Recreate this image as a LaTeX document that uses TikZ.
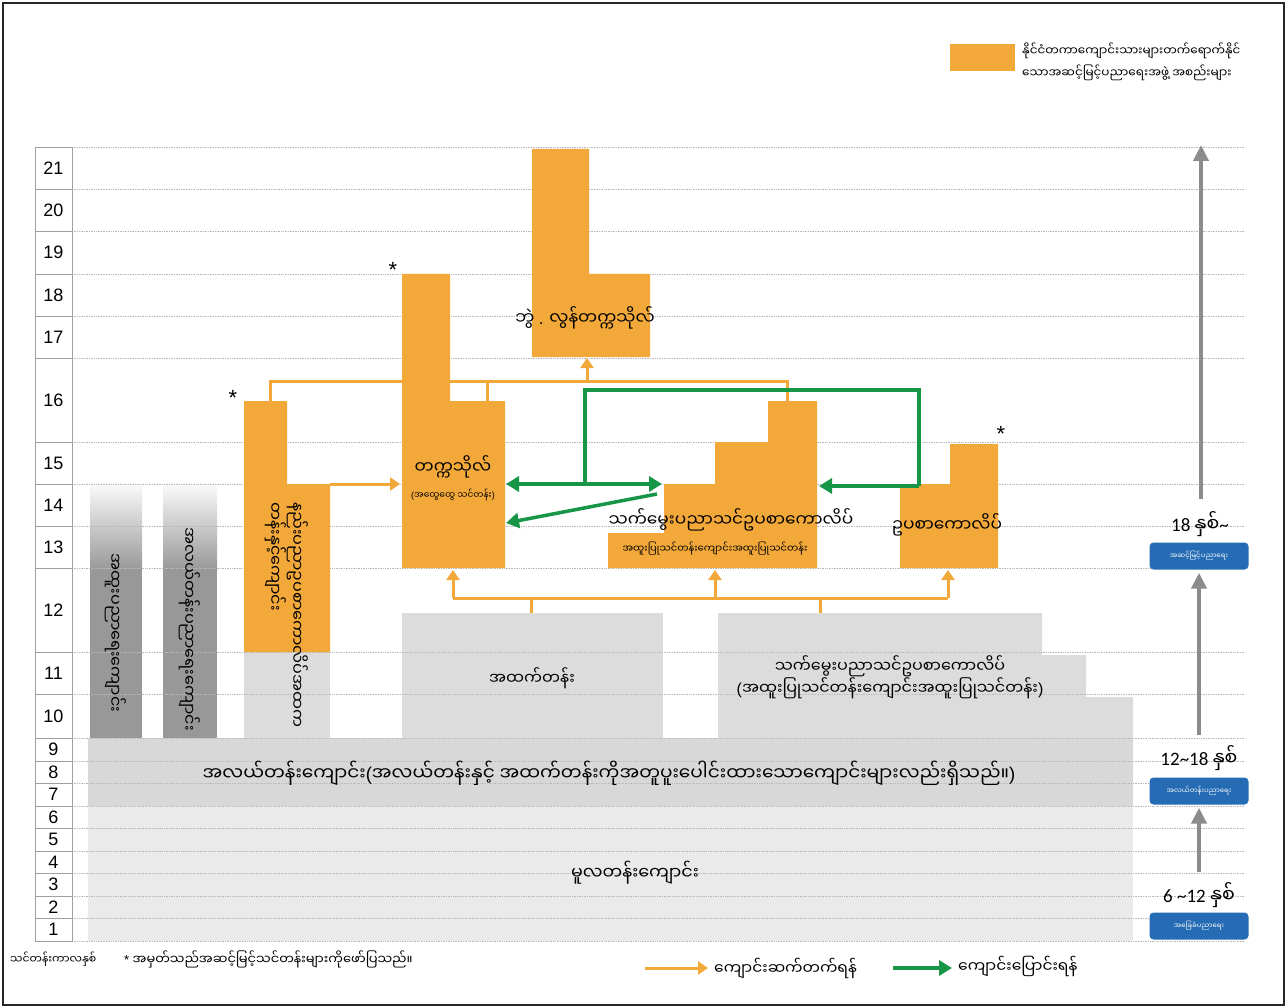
\documentclass[tikz,border=0pt]{standalone}
\usepackage{fontspec}
\setmainfont{Liberation Sans}
\newfontfamily\my[Script=Myanmar]{Noto Sans Myanmar UI}
\newfontfamily\lat{Carlito}
\newcommand\Lp{{\rmfamily(}}
\newcommand\Rp{{\rmfamily)}}
\newcommand\Dt{{\rmfamily.}}
\usetikzlibrary{arrows.meta}
\definecolor{org}{RGB}{243,168,58}
\definecolor{grn}{RGB}{24,150,72}
\definecolor{gblk}{RGB}{220,220,220}
\definecolor{gmid}{RGB}{216,216,216}
\definecolor{gpri}{RGB}{234,234,234}
\definecolor{gdark}{RGB}{152,152,152}
\definecolor{bluebox}{RGB}{38,108,180}
\definecolor{garr}{RGB}{140,140,140}
\tikzset{
  oline/.style={draw=org,line width=3pt},
  oarrow/.style={oline,-{Triangle[length=10pt,width=13pt]}},
  gline/.style={draw=grn,line width=3.5pt},
  garrow/.style={gline,-{Triangle[length=13pt,width=15pt]}},
  gdarrow/.style={gline,{Triangle[length=13pt,width=15pt]}-{Triangle[length=13pt,width=15pt]}},
  agearrow/.style={draw=garr,line width=4pt,-{Triangle[length=16pt,width=15pt]}},
  rowline/.style={draw=gray!55,densely dotted,line width=0.7pt},
  agecell/.style={draw=gray!75,line width=0.8pt},
  agenum/.style={font=\fontsize{18}{20}\selectfont,inner sep=0pt},
  bigtxt/.style={font=\my\fontsize{17}{20}\selectfont,inner sep=0pt},
  midtxt/.style={font=\my\fontsize{16}{19}\selectfont,inner sep=0pt},
  verttxt/.style={font=\my\fontsize{16}{19}\selectfont,inner sep=0pt,rotate=-90},
  smalltxt/.style={font=\my\fontsize{9}{11}\selectfont,inner sep=0pt},
  legtxt/.style={font=\my\fontsize{12}{14}\selectfont,inner sep=0pt,anchor=west},
  bluelbl/.style={fill=bluebox,rounded corners=4pt,minimum width=99pt,minimum height=27pt,inner sep=0pt,text=white,font=\my\fontsize{7}{8}\selectfont},
  yearlbl/.style={font=\lat\fontsize{19}{21}\selectfont,inner sep=0pt},
  star/.style={font=\fontsize{22}{22}\selectfont,inner sep=0pt}
}
\begin{document}
\begin{tikzpicture}[x=1pt,y=-1pt]
\useasboundingbox (0,0) rectangle (1287,1008);
\fill[white] (0,0) rectangle (1287,1008);

% base bands
\fill[gpri] (88,806) rectangle (1133,941);
\fill[gmid] (88,738) rectangle (1133,806);
% dark vertical blocks
\shade[top color=white,bottom color=gdark] (90,480) rectangle (142,570);
\fill[gdark] (90,569) rectangle (142,738);
\shade[top color=white,bottom color=gdark] (163,480) rectangle (217,570);
\fill[gdark] (163,569) rectangle (217,738);
% gray blocks
\fill[gblk] (244,652) rectangle (330,738);
\fill[gblk] (402,613) rectangle (663,738);
\fill[gblk] (718,613) -- (1042,613) -- (1042,655) -- (1086,655) -- (1086,697) -- (1133,697) -- (1133,738) -- (718,738) -- cycle;

% row lines
\foreach \yy in {147,189,231,274,316,358,442,484,526,568,652,694,738,761,783,806,828,851,873,896,918,941}
  \draw[rowline] (72,\yy) -- (1245,\yy);

% orange blocks
\fill[org] (244,401) -- (287,401) -- (287,484) -- (330,484) -- (330,652) -- (244,652) -- cycle;
\fill[org] (402,274) -- (450,274) -- (450,401) -- (505,401) -- (505,568) -- (402,568) -- cycle;
\fill[org] (532,149) -- (589,149) -- (589,274) -- (650,274) -- (650,357) -- (532,357) -- cycle;
\fill[org] (664,484) -- (715,484) -- (715,442) -- (768,442) -- (768,401) -- (817,401) -- (817,568) -- (608,568) -- (608,533) -- (664,533) -- cycle;
\fill[org] (900,484) -- (950,484) -- (950,444) -- (998,444) -- (998,568) -- (900,568) -- cycle;

% named connection points
\coordinate (colTop) at (270,401);
\coordinate (colSide) at (330,484);
\coordinate (uniSide) at (400,484);
\coordinate (uniTop) at (487,401);
\coordinate (senTop) at (787,401);
\coordinate (gradFoot) at (587,381);
\coordinate (gradBot) at (587,358);
\coordinate (hsTop) at (531,613);
\coordinate (voTop) at (820,613);
\coordinate (uniBot) at (453,570);
\coordinate (senBot) at (715,570);
\coordinate (jcBot) at (948,570);
\coordinate (busL) at (453,598);
\coordinate (busR) at (948,598);
\coordinate (uniRight) at (506,484);
\coordinate (senLeft) at (662,484);
\coordinate (loopFoot) at (585,484);
\coordinate (jcLeft) at (919,486);
\coordinate (senRight) at (819,486);
\coordinate (senDiag) at (657,494);
\coordinate (uniDiag) at (506,523);

% orange connectors
\draw[oline] (colTop) -- ++(0,-20) -| (senTop);
\draw[oline] (uniTop) -- ++(0,-20);
\draw[oarrow] (gradFoot) -- (gradBot);
\draw[oarrow] (colSide) -- (uniSide);
\draw[oline] (busL) -- (busR);
\draw[oline] (hsTop) -- (hsTop |- busL);
\draw[oline] (voTop) -- (voTop |- busL);
\draw[oarrow] (busL) -- (uniBot);
\draw[oarrow] (senBot |- busL) -- (senBot);
\draw[oarrow] (busR) -- (jcBot);

% green connectors
\draw[gdarrow] (uniRight) -- (senLeft);
\draw[gline] (loopFoot) -- ++(0,-94) -| (jcLeft);
\draw[garrow] (jcLeft) -- (senRight);
\draw[garrow] (senDiag) -- (uniDiag);

% stars
\node[star] (s1) at (233,398) {*};
\node[star] (s2) at (393,270) {*};
\node[star] (s3) at (1001,434) {*};

% block texts
\node[bigtxt] (tGrad) at (585,318) {ဘွဲ \Dt{} လွန်တက္ကသိုလ်};
\node[bigtxt] (tUni) at (453,467) {တက္ကသိုလ်};
\node[smalltxt] (tUniS) at (453,495) {\Lp အထွေထွေ သင်တန်း\Rp};
\node[bigtxt] (tSen) at (731,520) {သက်မွေးပညာသင်ဥပစာကောလိပ်};
\node[smalltxt,font=\my\fontsize{10}{12}\selectfont] (tSenS) at (715,549) {အထူးပြုသင်တန်းကျောင်းအထူးပြုသင်တန်း};
\node[bigtxt] (tJc) at (947,525) {ဥပစာကောလိပ်};
\node[midtxt] (tHs) at (532,678) {အထက်တန်း};
\node[midtxt,align=center] (tVo) at (890,677) {သက်မွေးပညာသင်ဥပစာကောလိပ်\\\Lp အထူးပြုသင်တန်းကျောင်းအထူးပြုသင်တန်း\Rp};
\node[midtxt,font=\my\fontsize{18.5}{21}\selectfont] (tMid) at (609,773) {အလယ်တန်းကျောင်း\Lp အလယ်တန်းနှင့် အထက်တန်းကိုအတူပူးပေါင်းထားသောကျောင်းများလည်းရှိသည်။\Rp};
\node[midtxt,font=\my\fontsize{17.5}{20}\selectfont] (tPri) at (635,873) {မူလတန်းကျောင်း};
\node[verttxt] (tSp) at (116,633) {အထူးပညာရေးကျောင်း};
\node[verttxt] (tSec) at (190,629) {အလယ်တန်းပညာရေးကျောင်း};
\node[verttxt,align=left] (tTech) at (287,615) {နည်းပညာဥပစာကောလိပ်အထက\\တန်းနှင့်ကျောင်း};

% age column
\foreach \n/\t/\b in {21/147/189,20/189/231,19/231/274,18/274/316,17/316/358,16/358/442,15/442/484,14/484/526,13/526/568,12/568/652,11/652/694,10/694/738,9/738/761,8/761/783,7/783/806,6/806/828,5/828/851,4/851/873,3/873/896,2/896/918,1/918/941}{
  \draw[agecell] (35,\t) rectangle (72,\b);
  \node[agenum] (age\n) at (53.5,{(\t+\b)/2}) {\n};
}

% right side stages
\node[bluelbl] (b1) at (1199,556) {အဆင့်မြင့်ပညာရေး};
\node[bluelbl] (b2) at (1199,791) {အလယ်တန်းပညာရေး};
\node[bluelbl] (b3) at (1199,926) {အခြေခံပညာရေး};
\node[yearlbl] (y1) at (1200,524) {18 {\my နှစ်}\textasciitilde};
\node[yearlbl] (y2) at (1199,758) {12\textasciitilde 18 {\my နှစ်}};
\node[yearlbl] (y3) at (1199,895) {6 \textasciitilde 12 {\my နှစ်}};
\coordinate (topEnd) at (1201,145);
\draw[agearrow] (y1.north -| topEnd) ++(0,-12) -- (topEnd);
\draw[agearrow] (y2.north -| b1.south) ++(0,-10) -- ([yshift=-3pt]b1.south);
\draw[agearrow] (y3.north -| b2.south) ++(0,-10) -- ([yshift=-3pt]b2.south);

% legend top
\fill[org] (950,44) rectangle (1015,71);
\node[legtxt] (lg1) at (1022,51) {နိုင်ငံတကာကျောင်းသားများတက်ရောက်နိုင်};
\node[legtxt] (lg2) at (1022,73) {သောအဆင့်မြင့်ပညာရေးအဖွဲ့ အစည်းများ};

% legend bottom
\node[legtxt,font=\my\fontsize{11}{13}\selectfont] (f1) at (10,959) {သင်တန်းကာလနှစ်};
\node[legtxt,font=\my\fontsize{13}{15}\selectfont] (f2) at (124,959) {{\rmfamily *} အမှတ်သည်အဆင့်မြင့်သင်တန်းများကိုဖော်ပြသည်။};
\coordinate (lo1) at (645,968);
\coordinate (lo2) at (708,968);
\draw[oarrow] (lo1) -- (lo2);
\node[legtxt,font=\my\fontsize{15.5}{17}\selectfont] (f3) at (714,968) {ကျောင်းဆက်တက်ရန်};
\coordinate (lg1a) at (893,968);
\coordinate (lg2a) at (952,968);
\draw[garrow] (lg1a) -- (lg2a);
\node[legtxt,font=\my\fontsize{15.5}{17}\selectfont] (f4) at (958,966) {ကျောင်းပြောင်းရန်};

% frame
\draw[gray!30!black,line width=2pt] (3,3) rectangle (1284,1005);
\end{tikzpicture}
\end{document}
